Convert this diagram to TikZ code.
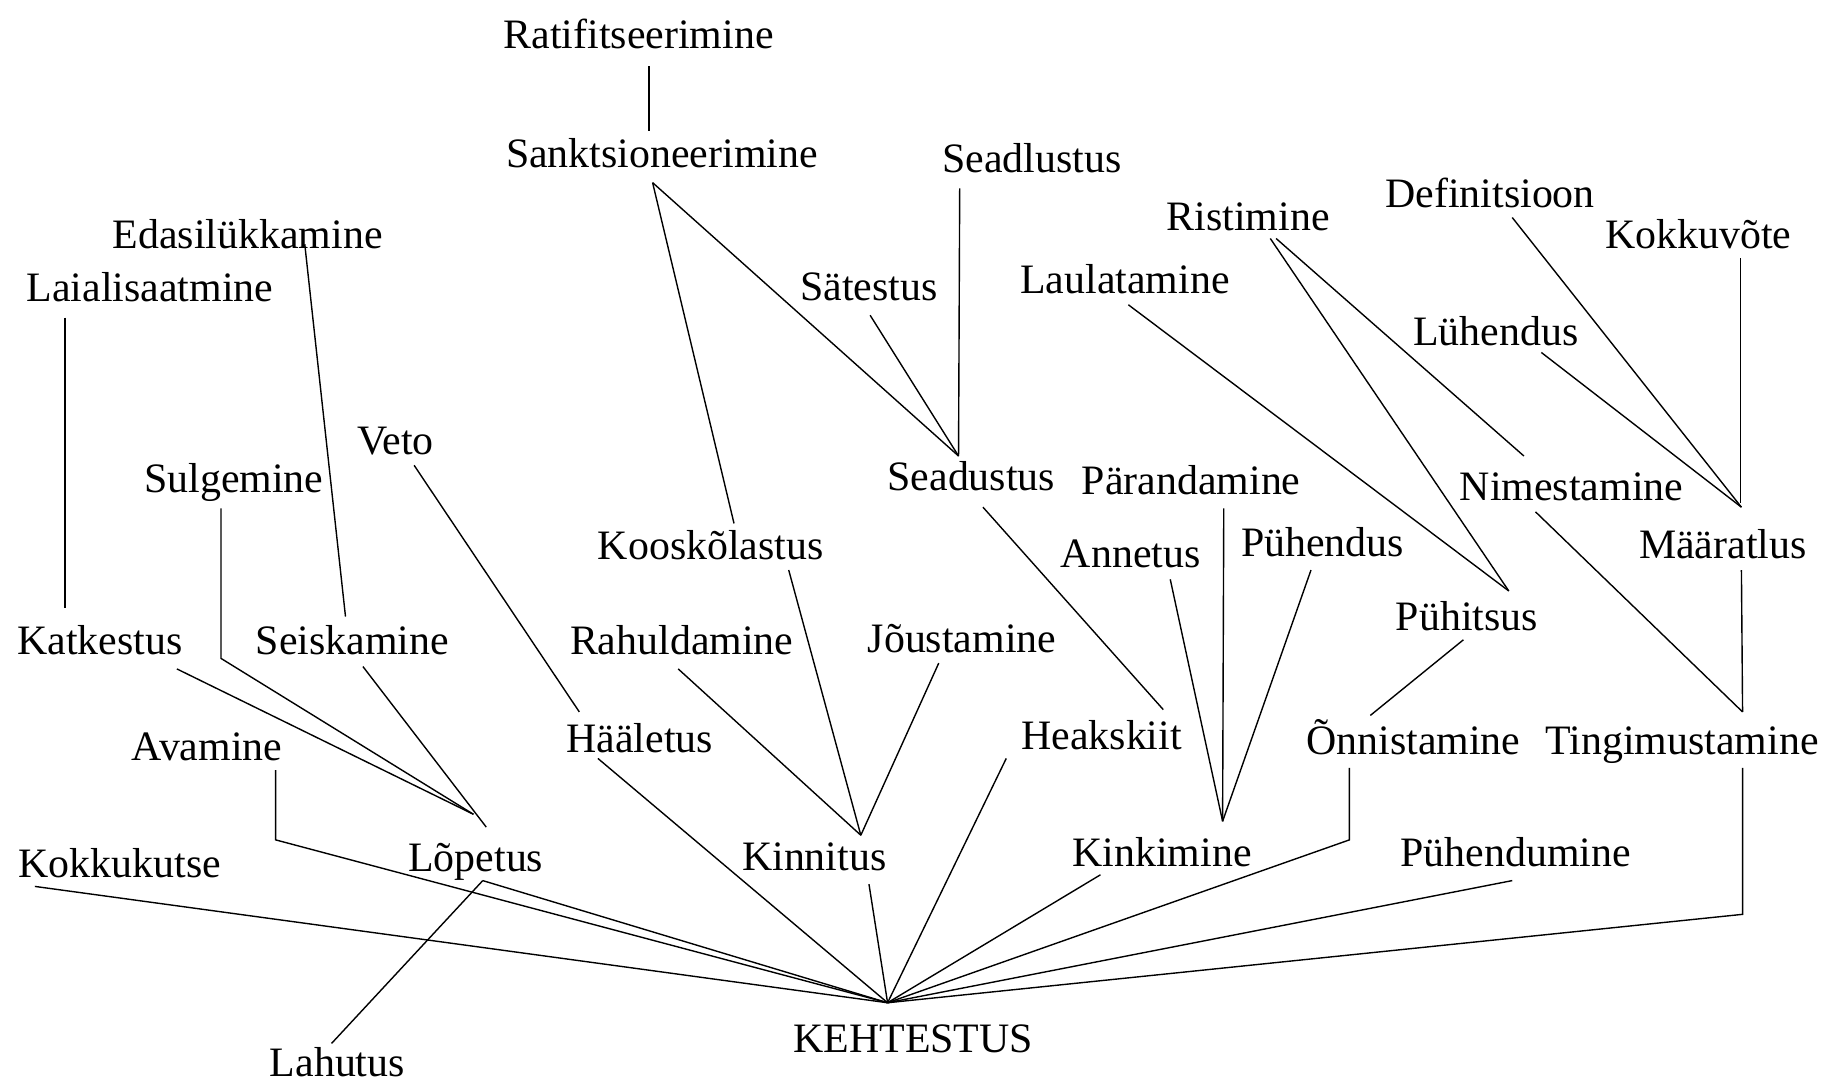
\documentclass[tikz,border=0pt]{standalone}
\usepackage{fontspec}
\setmainfont{Liberation Serif}
\begin{document}
\begin{tikzpicture}[x=0.5pt,y=-0.5pt,
  lbl/.style={anchor=base,inner sep=0pt,font=\fontsize{18}{21}\selectfont},
  link/.style={draw=black,line width=0.6pt,line join=miter}]
\useasboundingbox (0,0) rectangle (1568,932);
\fill[white] (0,0) rectangle (1568,932);

% ---- terms ----
\node[lbl] (ratif)    at (549,42)  {Ratifitseerimine};
\node[lbl] (sankt)    at (569,144) {Sanktsioneerimine};
\node[lbl] (seadl)    at (887,148) {Seadlustus};
\node[lbl] (satest)   at (747,258) {Sätestus};
\node[lbl] (seadus)   at (835,422) {Seadustus};
\node[lbl] (edasi)    at (213,214) {Edasilükkamine};
\node[lbl] (laial)    at (129,259) {Laialisaatmine};
\node[lbl] (veto)     at (340,391) {Veto};
\node[lbl] (sulg)     at (201,423) {Sulgemine};
\node[lbl] (koosk)    at (611,481) {Kooskõlastus};
\node[lbl] (katk)     at (86,563)  {Katkestus};
\node[lbl] (seisk)    at (303,563) {Seiskamine};
\node[lbl] (rahul)    at (586,563) {Rahuldamine};
\node[lbl] (joust)    at (827,561) {Jõustamine};
\node[lbl] (avam)     at (178,654) {Avamine};
\node[lbl] (haal)     at (550,647) {Hääletus};
\node[lbl] (heaks)    at (947,644) {Heakskiit};
\node[lbl] (kokkuk)   at (103,754) {Kokkukutse};
\node[lbl] (lopet)    at (409,749) {Lõpetus};
\node[lbl] (kinnit)   at (700,748) {Kinnitus};
\node[lbl] (kinki)    at (999,745) {Kinkimine};
\node[lbl] (puhendum) at (1303,745) {Pühendumine};
\node[lbl] (kehtest)  at (785,905) {KEHTESTUS};
\node[lbl] (lahut)    at (290,925) {Lahutus};
\node[lbl] (ristim)   at (1073,198) {Ristimine};
\node[lbl] (defin)    at (1281,178) {Definitsioon};
\node[lbl] (kokkuv)   at (1460,214) {Kokkuvõte};
\node[lbl] (laulat)   at (967,252) {Laulatamine};
\node[lbl] (luhend)   at (1286,297) {Lühendus};
\node[lbl] (parand)   at (1024,425) {Pärandamine};
\node[lbl] (nimest)   at (1351,430) {Nimestamine};
\node[lbl] (annet)    at (972,488) {Annetus};
\node[lbl] (puhendus) at (1137,478) {Pühendus};
\node[lbl] (maarat)   at (1481,480) {Määratlus};
\node[lbl] (puhits)   at (1261,542) {Pühitsus};
\node[lbl] (onnist)   at (1215,649) {Õnnistamine};
\node[lbl] (tingim)   at (1446,649) {Tingimustamine};

% ---- junction points where several links meet ----
\coordinate (kehtest-hub) at (763,862);
\coordinate (lopet-hub)   at (407,700);
\coordinate (kinnit-hub)  at (740,718);
\coordinate (seadus-hub)  at (824,392);
\coordinate (kinki-hub)   at (1051,706);
\coordinate (puhits-hub)  at (1297,508);
\coordinate (maarat-hub)  at (1497,436);

% ---- link ends next to each term ----
\coordinate (ratif-b)    at (558,57);
\coordinate (sankt-t)    at (558,113);
\coordinate (sankt-b)    at (561,157);
\coordinate (koosk-t)    at (631,450);
\coordinate (koosk-b)    at (678,490);
\coordinate (seadl-b)    at (825,162);
\coordinate (satest-b)   at (748,271);
\coordinate (edasi-m)    at (262,210);
\coordinate (seisk-t)    at (297,530);
\coordinate (laial-b)    at (56,273);
\coordinate (katk-t)     at (56,523);
\coordinate (veto-b)     at (356,400);
\coordinate (haal-t)     at (498,612);
\coordinate (sulg-b)     at (190,437);
\coordinate (sulg-k)     at (190,566);
\coordinate (katk-b)     at (152,575);
\coordinate (seisk-b)    at (312,573);
\coordinate (seisk-e)    at (418,711);
\coordinate (avam-b)     at (237,662);
\coordinate (avam-k)     at (237,722);
\coordinate (kokkuk-b)   at (30,762);
\coordinate (lopet-b)    at (415,757);
\coordinate (lahut-t)    at (285,897);
\coordinate (haal-b)     at (514,652);
\coordinate (rahul-b)    at (583,575);
\coordinate (joust-b)    at (807,570);
\coordinate (kinnit-b)   at (747,760);
\coordinate (heaks-t)    at (1000,610);
\coordinate (heaks-b)    at (865,652);
\coordinate (seadus-b)   at (845,436);
\coordinate (kinki-b)    at (946,752);
\coordinate (onnist-t)   at (1178,615);
\coordinate (onnist-b)   at (1160,660);
\coordinate (onnist-k)   at (1160,722);
\coordinate (puhendum-b) at (1300,757);
\coordinate (tingim-t)   at (1498,612);
\coordinate (tingim-b)   at (1498,660);
\coordinate (tingim-k)   at (1498,786);
\coordinate (annet-b)    at (1006,498);
\coordinate (parand-b)   at (1052,437);
\coordinate (puhendus-b) at (1127,490);
\coordinate (laulat-b)   at (970,262);
\coordinate (ristim-b1)  at (1092,205);
\coordinate (ristim-b2)  at (1097,205);
\coordinate (nimest-t)   at (1310,392);
\coordinate (nimest-b)   at (1320,440);
\coordinate (defin-b)    at (1300,187);
\coordinate (luhend-b)   at (1325,303);
\coordinate (kokkuv-b)   at (1496,222);
\coordinate (kokkuv-e)   at (1496,432);
\coordinate (maarat-b)   at (1497,490);
\coordinate (puhits-b)   at (1258,550);

% ---- links ----
\path[link] (ratif-b) -- (sankt-t);
\path[link] (sankt-b) -- (seadus-hub);
\path[link] (sankt-b) -- (koosk-t);
\path[link] (satest-b) -- (seadus-hub);
\path[link] (seadl-b) -- (seadus-hub);
\path[link] (seadus-b) -- (heaks-t);

\path[link] (edasi-m) -- (seisk-t);
\path[link] (laial-b) -- (katk-t);
\path[link] (veto-b) -- (haal-t);
\path[link] (sulg-b) -- (sulg-k) -- (lopet-hub);
\path[link] (katk-b) -- (lopet-hub);
\path[link] (seisk-b) -- (seisk-e);
\path[link] (lopet-b) -- (lahut-t);

\path[link] (koosk-b) -- (kinnit-hub);
\path[link] (rahul-b) -- (kinnit-hub);
\path[link] (joust-b) -- (kinnit-hub);

\path[link] (annet-b) -- (kinki-hub);
\path[link] (parand-b) -- (kinki-hub);
\path[link] (puhendus-b) -- (kinki-hub);

\path[link] (laulat-b) -- (puhits-hub);
\path[link] (ristim-b1) -- (puhits-hub);
\path[link] (ristim-b2) -- (nimest-t);
\path[link] (puhits-b) -- (onnist-t);

\path[link] (defin-b) -- (maarat-hub);
\path[link] (luhend-b) -- (maarat-hub);
\path[link] (kokkuv-b) -- (kokkuv-e);
\path[link] (maarat-b) -- (tingim-t);
\path[link] (nimest-b) -- (tingim-t);

% everything below runs into KEHTESTUS
\path[link] (kokkuk-b) -- (kehtest-hub);
\path[link] (avam-b) -- (avam-k) -- (kehtest-hub);
\path[link] (lopet-b) -- (kehtest-hub);
\path[link] (haal-b) -- (kehtest-hub);
\path[link] (kinnit-b) -- (kehtest-hub);
\path[link] (heaks-b) -- (kehtest-hub);
\path[link] (kinki-b) -- (kehtest-hub);
\path[link] (onnist-b) -- (onnist-k) -- (kehtest-hub);
\path[link] (puhendum-b) -- (kehtest-hub);
\path[link] (tingim-b) -- (tingim-k) -- (kehtest-hub);
\end{tikzpicture}
\end{document}
